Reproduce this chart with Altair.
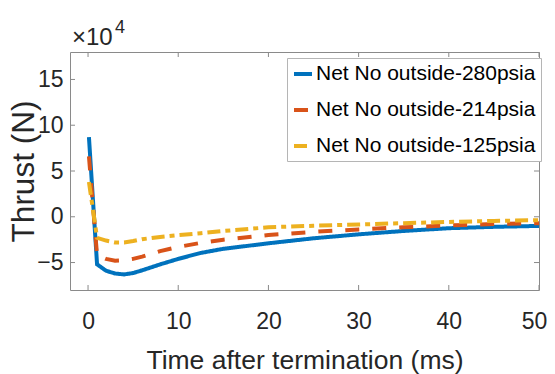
import altair as alt
import pandas as pd

# ---- data (thrust values in units of 1e4 N) ----
time_ms = [0.1, 1, 2, 3, 4, 5, 6, 8, 10, 12.5, 15, 20, 25, 30, 35, 40, 45, 50]
thrust_280 = [8.7, -5.2, -5.9, -6.2, -6.3, -6.15, -5.85, -5.2, -4.6, -3.95, -3.5, -2.9, -2.35, -1.92, -1.55, -1.25, -1.1, -1.0]
thrust_214 = [6.6, -4.2, -4.6, -4.8, -4.75, -4.6, -4.35, -3.75, -3.3, -2.85, -2.5, -2.0, -1.65, -1.38, -1.15, -0.95, -0.8, -0.7]
thrust_125 = [3.8, -2.3, -2.6, -2.8, -2.8, -2.65, -2.45, -2.2, -2.0, -1.8, -1.55, -1.15, -0.98, -0.84, -0.7, -0.57, -0.45, -0.37]
series_names = ["Net No outside-280psia", "Net No outside-214psia", "Net No outside-125psia"]
x_ticks = [0, 10, 20, 30, 40, 50]
y_ticks = [-5, 0, 5, 10, 15]

rows = []
for name, vals in zip(series_names, [thrust_280, thrust_214, thrust_125]):
    for t, v in zip(time_ms, vals):
        rows.append({"t": t, "thrust": v, "series": name})
df = pd.DataFrame(rows)

W, H = 469, 238
FONT = "Liberation Sans, Arial, sans-serif"
TXT = "#262626"
AX = "#8a8a8a"

x_scale = alt.Scale(domain=[-2, 50], nice=False, zero=False)
y_scale = alt.Scale(domain=[-8, 18], nice=False, zero=False)

x_axis = alt.Axis(values=x_ticks, title="Time after termination (ms)", domain=False,
                  ticks=False, tickSize=0, grid=False, labelPadding=38, labelFlush=False,
                  labelBaseline="alphabetic", labelFontSize=23, labelFont=FONT,
                  labelOffset={"condition": {"test": "datum.value == 50", "value": -5}, "value": 0},
                  labelColor=TXT, titleFont=FONT, titleFontSize=26.5, titleColor=TXT,
                  titleFontWeight="normal", titleX=W / 2, titleY=78, titleAlign="center",
                  titleBaseline="alphabetic")
y_axis = alt.Axis(values=y_ticks, title="Thrust (N)", domain=False, ticks=False, tickSize=0,
                  grid=False, labelPadding=7, labelBaseline="middle", labelFontSize=23,
                  labelFlush=False,
                  labelFont=FONT, labelColor=TXT, titleFont=FONT, titleFontSize=31.5,
                  titleColor=TXT, titleFontWeight="normal", titleX=-46, titleY=119,
                  titleAngle=270, titleAlign="center", titleBaseline="middle")

colors = ["#0072BD", "#D95319", "#EDB120"]
dashes = [[1, 0], [14, 13], [13, 5, 5, 5]]

legend = alt.Legend(title=None, orient="none", legendX=217, legendY=6, symbolType="stroke",
                    symbolSize=324, symbolStrokeWidth=4, labelFont=FONT, labelFontSize=21,
                    labelColor="black", labelLimit=400, labelOffset=2, padding=5, rowPadding=15,
                    fillColor="white", strokeColor="#b5b5b5")

X = alt.X("t:Q", scale=x_scale, axis=x_axis)
Y = alt.Y("thrust:Q", scale=y_scale, axis=y_axis)

lines = alt.Chart(df).mark_line(strokeWidth=4, clip=True).encode(
    x=X, y=Y,
    color=alt.Color("series:N", scale=alt.Scale(domain=series_names, range=colors), legend=legend),
    strokeDash=alt.StrokeDash("series:N", scale=alt.Scale(domain=series_names, range=dashes), legend=legend),
)

xt = pd.DataFrame({"t": x_ticks})
yt = pd.DataFrame({"thrust": y_ticks})
tick_bottom = alt.Chart(xt).mark_rule(color=AX, strokeWidth=1).encode(x=X, y=alt.value(H), y2=alt.value(H - 5))
tick_top = alt.Chart(xt).mark_rule(color=AX, strokeWidth=1).encode(x=X, y=alt.value(0), y2=alt.value(5))
tick_left = alt.Chart(yt).mark_rule(color=AX, strokeWidth=1).encode(y=Y, x=alt.value(0), x2=alt.value(5))
tick_right = alt.Chart(yt).mark_rule(color=AX, strokeWidth=1).encode(y=Y, x=alt.value(W), x2=alt.value(W - 5))

one = pd.DataFrame({"a": [0]})
exp_base = alt.Chart(one).mark_text(text="×10", align="left", baseline="alphabetic", font=FONT,
                                    fontSize=24, color=TXT).encode(x=alt.value(2), y=alt.value(-7))
exp_pow = alt.Chart(one).mark_text(text="4", align="left", baseline="alphabetic", font=FONT,
                                   fontSize=18, color=TXT).encode(x=alt.value(45), y=alt.value(-19))

chart = alt.layer(lines, tick_bottom, tick_top, tick_left, tick_right, exp_base, exp_pow).properties(
    width=W, height=H,
    padding={"left": 62, "top": 44, "right": 8, "bottom": 84},
    autosize=alt.AutoSizeParams(type="none"),
    background="white",
).configure_view(stroke=AX, strokeWidth=1)

chart.save("out.html", embed_options={"renderer": "svg", "actions": False})
